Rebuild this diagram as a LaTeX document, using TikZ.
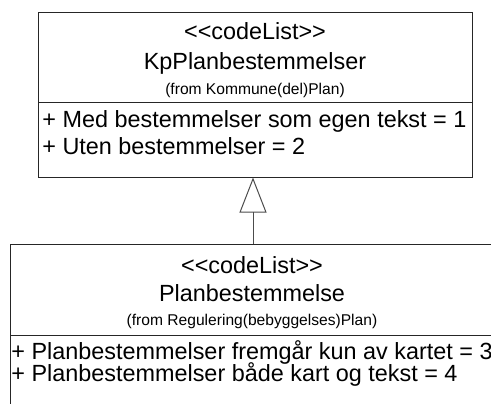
\documentclass[tikz,border=0pt]{standalone}
\usepackage{fontspec}
\setmainfont{Liberation Sans}
\usetikzlibrary{arrows.meta, positioning, fit}

\tikzset{
  umltext/.style={inner sep=0pt, anchor=base, font=\fontsize{11.7}{13}\selectfont},
  umlsmall/.style={inner sep=0pt, anchor=base, font=\fontsize{7.8}{9}\selectfont},
  umlattr/.style={umltext, anchor=base west},
  umlbox/.style={draw=black!85, line width=0.5pt, inner sep=0pt},
  umlline/.style={draw=black!85, line width=0.5pt},
  generalization/.style={draw=black!70, line width=0.5pt, -{Triangle[open, length=17.5pt, width=13.5pt]}}
}

\begin{document}
\begin{tikzpicture}[x=0.5pt, y=-0.5pt]
  \useasboundingbox (0,0) rectangle (491,403);
  % KpPlanbestemmelser
  \coordinate (kp_nw) at (38,12);
  \coordinate (kp_se) at (472,177);
  \node[umlbox, fit={(kp_nw) (kp_se)}] (kp) {};
  \draw[umlline] (38,102) -- (472,102);
  \node[umltext] (kp_stereo) at (255,39) {{<}{<}codeList{>}{>}};
  \node[umltext] (kp_name) at (255,69) {KpPlanbestemmelser};
  \node[umlsmall] (kp_from) at (255,94) {(from Kommune(del)Plan)};
  \node[umlattr] (kp_attr1) at (42,127) {+ Med bestemmelser som egen tekst = 1};
  \node[umlattr] (kp_attr2) at (42,154) {+ Uten bestemmelser = 2};
  % Planbestemmelse
  \coordinate (plan_nw) at (10,244);
  \coordinate (plan_se) at (494,420);
  \node[umlbox, fit={(plan_nw) (plan_se)}] (plan) {};
  \draw[umlline] (10,335) -- (494,335);
  \node[umltext] (plan_stereo) at (252,273) {{<}{<}codeList{>}{>}};
  \node[umltext] (plan_name) at (252,301) {Planbestemmelse};
  \node[umlsmall] (plan_from) at (252,325) {(from Regulering(bebyggelses)Plan)};
  \node[umlattr] (plan_attr1) at (11,359) {+ Planbestemmelser fremgår kun av kartet = 3};
  \node[umlattr] (plan_attr2) at (11,381) {+ Planbestemmelser både kart og tekst = 4};
  % generalization
  \coordinate (gen) at (253,0);
  \draw[generalization] (plan.north -| gen) -- (kp.south -| gen);
\end{tikzpicture}
\end{document}
